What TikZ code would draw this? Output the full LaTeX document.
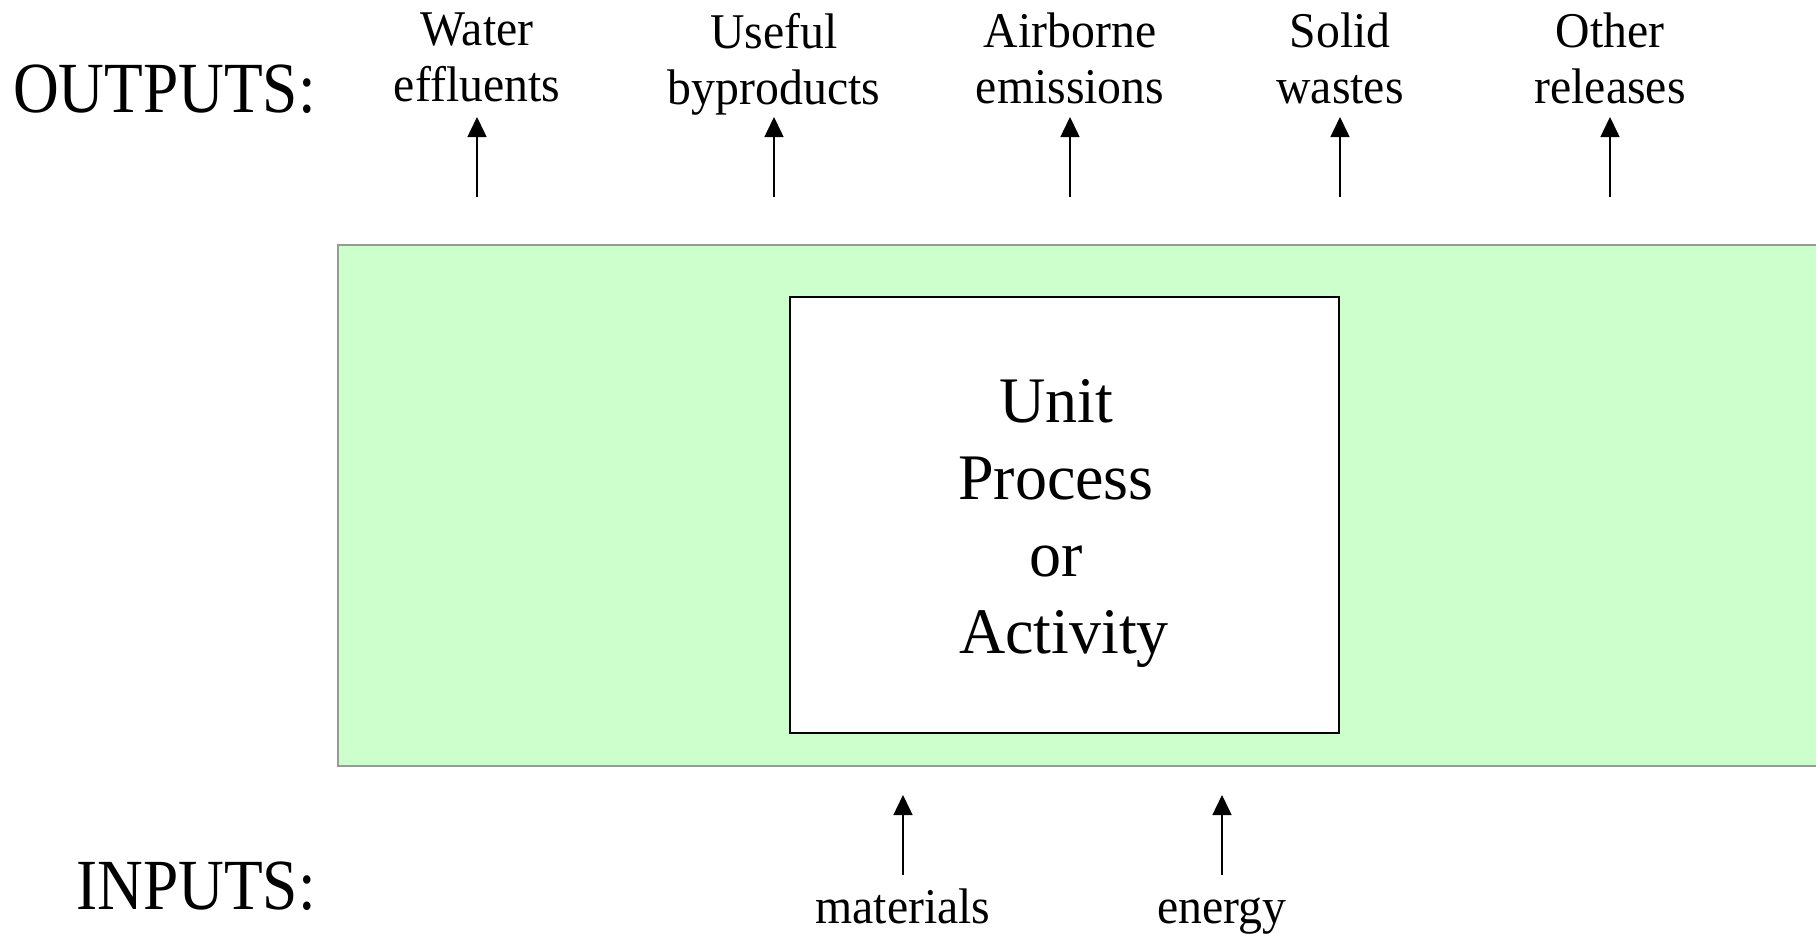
\documentclass[tikz,border=0pt]{standalone}
\usepackage{fontspec}
\setmainfont[FakeStretch=0.955]{Liberation Serif}
\newfontfamily\bigfont[FakeStretch=0.88]{Liberation Serif}
\newfontfamily\unitfont[FakeStretch=0.985]{Liberation Serif}
\usetikzlibrary{arrows.meta}
\definecolor{envgreen}{HTML}{CCFFCC}
\definecolor{envgray}{HTML}{999999}
\begin{document}
\begin{tikzpicture}[x=1pt,y=-1pt,
  lbl/.style={align=center, inner sep=0pt, anchor=north, font=\fontsize{50}{56}\selectfont},
  inlbl/.style={inner sep=0pt, anchor=base, font=\fontsize{50}{56}\selectfont},
  big/.style={inner sep=0pt, anchor=base east, font=\bigfont\fontsize{72}{80}\selectfont},
  envbox/.style={fill=envgreen, draw=envgray, line width=2pt, anchor=north west, inner sep=0pt},
  unitbox/.style={fill=white, draw=black, line width=1.5pt, anchor=north west, inner sep=0pt},
  unittext/.style={align=center, inner sep=0pt, font=\unitfont\fontsize{65}{77}\selectfont},
  flow/.style={line width=1.5pt, -{Triangle[length=20pt,width=19pt]}},
]
\useasboundingbox (0,0) rectangle (1816,934);
\fill[white] (0,0) rectangle (1816,934);

\node[envbox, minimum width=1500pt, minimum height=521pt] (env) at (337,244) {};
\node[unitbox, minimum width=549pt, minimum height=436pt] (unit) at (789,296) {};
\node[unittext] (utext) at (1056,523) {Unit\\Process\\or\\\hspace*{16pt}Activity};

\node[big] (outputs) at (316,112) {OUTPUTS:};
\node[big] (inputs) at (316,909) {INPUTS:};

\node[lbl] (water) at (477,13) {Water\\effluents};
\node[lbl] (useful) at (774,13) {Useful\\byproducts};
\node[lbl] (air) at (1070,13) {Airborne\\emissions};
\node[lbl] (solid) at (1340,13) {Solid\\wastes};
\node[lbl] (other) at (1610,13) {Other\\releases};

\node[inlbl] (mat) at (903,923) {materials};
\node[inlbl] (ene) at (1222,923) {energy};

\foreach \n/\x in {water/477, useful/774, air/1070, solid/1340, other/1610}{
  \coordinate (\n-s) at (\x,197);
  \coordinate (\n-e) at (\x,117);
  \draw[flow] (\n-s) -- (\n-e);
}
\foreach \n/\x in {mat/903, ene/1222}{
  \coordinate (\n-s) at (\x,875);
  \coordinate (\n-e) at (\x,795);
  \draw[flow] (\n-s) -- (\n-e);
}
\end{tikzpicture}
\end{document}
